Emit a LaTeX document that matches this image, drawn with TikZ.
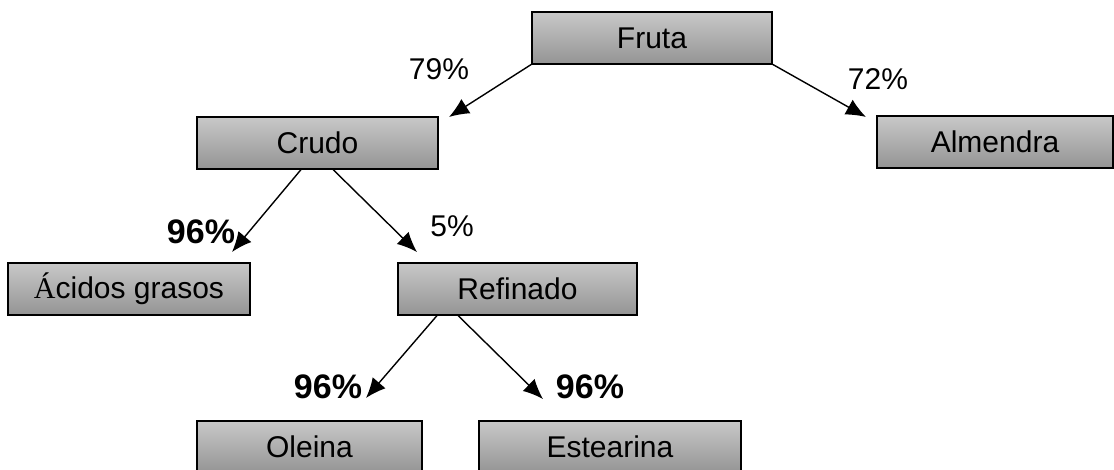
\documentclass[tikz,border=0pt]{standalone}
\usepackage{fontspec}
\setmainfont{Liberation Sans}
\newfontfamily\serifA{Liberation Serif}
\usetikzlibrary{arrows.meta,calc}
\definecolor{boxtop}{RGB}{200,200,200}
\definecolor{boxbot}{RGB}{148,148,148}
\begin{document}
\begin{tikzpicture}[x=1pt,y=-1pt,
  box/.style={draw=black, line width=1.8pt, top color=boxtop, bottom color=boxbot,
    minimum height=52pt, inner sep=0pt, outer sep=0pt, anchor=north west,
    font=\fontsize{30}{36}\selectfont},
  pct/.style={font=\fontsize{30}{36}\selectfont, inner sep=0pt},
  bpct/.style={font=\fontsize{34}{40}\selectfont\bfseries, inner sep=0pt},
  arr/.style={line width=1.4pt, -{Latex[length=20pt,width=17pt]}}]
\useasboundingbox (0,0) rectangle (1114,470);
\clip (0,0) rectangle (1114,470);

\node[box, minimum width=240pt] (fruta) at (532,12) {Fruta};
\node[box, minimum width=241pt] (crudo) at (197,117) {Crudo};
\node[box, minimum width=236pt] (almendra) at (877,116) {Almendra};
\node[box, minimum width=242pt] (acidos) at (8,263) {{\serifA Á}cidos grasos};
\node[box, minimum width=239pt] (refinado) at (398,263) {Refinado};
\node[box, minimum width=225pt] (oleina) at (197,421) {Oleina};
\node[box, minimum width=262pt] (estearina) at (479,421) {Estearina};

\coordinate (t1) at (449,117);
\coordinate (t2) at (866,117);
\coordinate (t3) at (232,252);
\coordinate (t4) at (417,252);
\coordinate (t5) at (366,398);
\coordinate (t6) at (543,399);

\draw[arr] (fruta.south west) -- (t1);
\draw[arr] (fruta.south east) -- (t2);
\draw[arr] ($(crudo.south)+(-16,0)$) -- (t3);
\draw[arr] ($(crudo.south)+(15,0)$) -- (t4);
\draw[arr] ($(refinado.south)+(-80,0)$) -- (t5);
\draw[arr] ($(refinado.south)+(-60,0)$) -- (t6);

\node[pct] (p1) at (439,69) {79\%};
\node[pct] (p2) at (878,79) {72\%};
\node[bpct] (p3) at (201,232) {96\%};
\node[pct] (p4) at (452,226) {5\%};
\node[bpct] (p5) at (328,387) {96\%};
\node[bpct] (p6) at (590,387) {96\%};
\end{tikzpicture}
\end{document}
